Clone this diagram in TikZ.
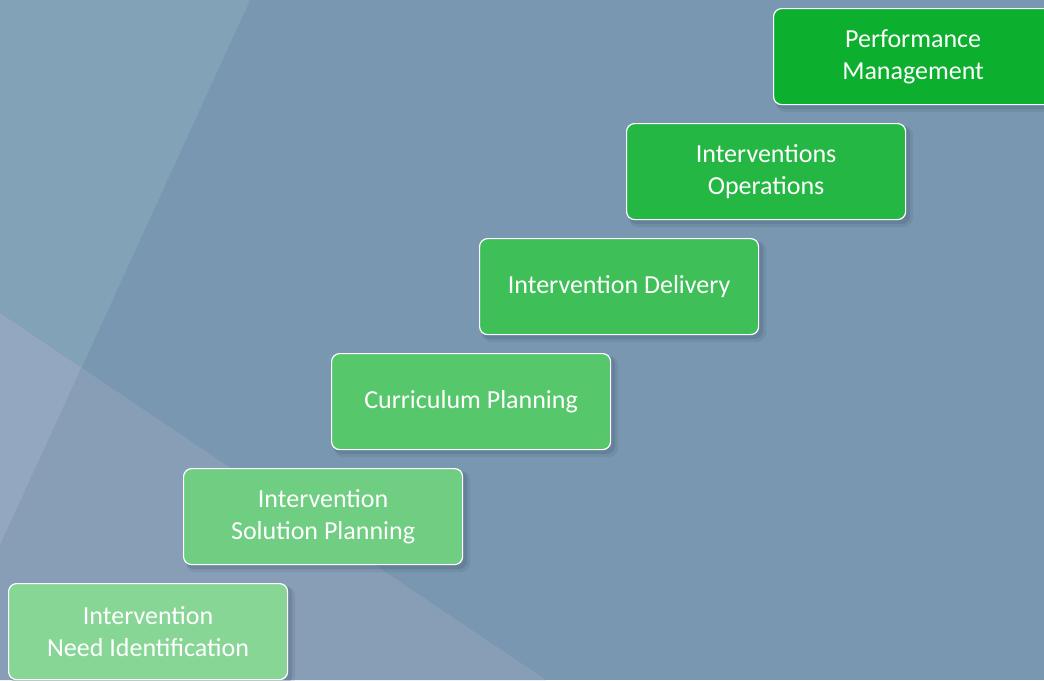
\documentclass[tikz,border=0pt]{standalone}
\usepackage{fontspec}
\setmainfont{Carlito}
\definecolor{bgbase}{RGB}{121,151,176}
\definecolor{bgA}{RGB}{130,162,183}
\definecolor{bgAB}{RGB}{147,168,192}
\definecolor{bgB}{RGB}{136,158,183}
\definecolor{gA}{RGB}{136,214,150}
\definecolor{gB}{RGB}{111,206,129}
\definecolor{gC}{RGB}{87,199,108}
\definecolor{gD}{RGB}{62,191,88}
\definecolor{gE}{RGB}{37,183,67}
\definecolor{gF}{RGB}{12,176,46}
\definecolor{shadowc}{RGB}{60,80,105}
\tikzset{
  stepbox/.style={draw=white, line width=1.2pt, rounded corners=8pt,
    minimum width=279pt, minimum height=96pt, inner sep=0pt,
    anchor=north west, text=white, align=center,
    font=\fontsize{26}{32}\selectfont},
}
\begin{document}
\begin{tikzpicture}[x=1pt,y=-1pt]
\useasboundingbox (0,0) rectangle (1044,680);
% background
\fill[bgbase] (0,0) rectangle (1044,680);
\coordinate (ta) at (250,0);
\coordinate (lb) at (0,313);
\coordinate (ix) at (81.5,367.8);
\coordinate (la) at (0,545.6);
\coordinate (bb) at (546,680);
\fill[bgA] (0,0) -- (ta) -- (ix) -- (lb) -- cycle;
\fill[bgAB] (lb) -- (ix) -- (la) -- cycle;
\fill[bgB] (ix) -- (bb) -- (0,680) -- (la) -- cycle;
% shadows
\foreach \x/\y in {8/583,183/468,331/353,479/238,626/123,773/8}{
  \fill[shadowc, opacity=0.12, rounded corners=9pt] (\x+3,\y+3) rectangle (\x+279+8,\y+96+8);
  \fill[shadowc, opacity=0.22, rounded corners=8pt] (\x+3,\y+3) rectangle (\x+279+5,\y+96+5);
}
% boxes
\node[stepbox, fill=gA] (s1) at (8,583) {Intervention\\Need Identification};
\node[stepbox, fill=gB] (s2) at (183,468) {Intervention\\Solution Planning};
\node[stepbox, fill=gC] (s3) at (331,353) {Curriculum Planning};
\node[stepbox, fill=gD] (s4) at (479,238) {Intervention Delivery};
\node[stepbox, fill=gE] (s5) at (626,123) {Interventions\\Operations};
\node[stepbox, fill=gF] (s6) at (773,8) {Performance\\Management};
\end{tikzpicture}
\end{document}
